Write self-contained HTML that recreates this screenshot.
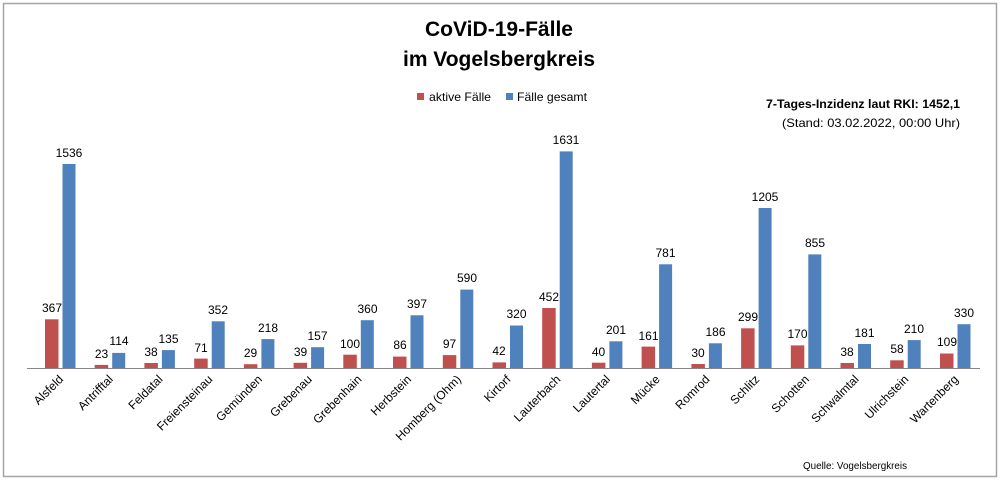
<!DOCTYPE html>
<html><head><meta charset="utf-8"><style>
html,body{margin:0;padding:0;background:#fff}
svg{display:block}
text{font-family:"Liberation Sans",sans-serif;fill:#000}
</style></head><body>
<svg width="1000" height="480" viewBox="0 0 1000 480" xmlns="http://www.w3.org/2000/svg">
<rect x="3.5" y="3.5" width="993" height="473" fill="#fff" stroke="#a6a6a6" stroke-width="1.5"/>
<text x="499" y="36" font-size="21" font-weight="bold" text-anchor="middle" textLength="148" lengthAdjust="spacingAndGlyphs">CoViD-19-Fälle</text>
<text x="499" y="66" font-size="21" font-weight="bold" text-anchor="middle" textLength="192" lengthAdjust="spacingAndGlyphs">im Vogelsbergkreis</text>
<rect x="417" y="93" width="7" height="7" fill="#c0504d"/>
<text x="429" y="101" font-size="12" textLength="62" lengthAdjust="spacingAndGlyphs">aktive Fälle</text>
<rect x="506" y="93" width="7" height="7" fill="#4f81bd"/>
<text x="517" y="101" font-size="12" textLength="70" lengthAdjust="spacingAndGlyphs">Fälle gesamt</text>
<text x="960" y="108" font-size="12" font-weight="bold" text-anchor="end" textLength="194" lengthAdjust="spacingAndGlyphs">7-Tages-Inzidenz laut RKI: 1452,1</text>
<text x="960" y="127" font-size="12" text-anchor="end" textLength="178" lengthAdjust="spacingAndGlyphs">(Stand: 03.02.2022, 00:00 Uhr)</text>
<text x="803" y="469" font-size="10" textLength="104" lengthAdjust="spacingAndGlyphs">Quelle: Vogelsbergkreis</text>
<line x1="27" y1="368.5" x2="980" y2="368.5" stroke="#868686" stroke-width="1"/>
<g fill="#c0504d">
<rect x="45" y="319.3" width="13.5" height="48.7"/>
<rect x="94.7" y="364.9" width="13.5" height="3.1"/>
<rect x="144.4" y="363" width="13.5" height="5"/>
<rect x="194.2" y="358.6" width="13.5" height="9.4"/>
<rect x="243.9" y="364.2" width="13.5" height="3.8"/>
<rect x="293.6" y="362.8" width="13.5" height="5.2"/>
<rect x="343.3" y="354.7" width="13.5" height="13.3"/>
<rect x="393" y="356.6" width="13.5" height="11.4"/>
<rect x="442.8" y="355.1" width="13.5" height="12.9"/>
<rect x="492.5" y="362.4" width="13.5" height="5.6"/>
<rect x="542.2" y="308" width="13.5" height="60"/>
<rect x="591.9" y="362.7" width="13.5" height="5.3"/>
<rect x="641.6" y="346.6" width="13.5" height="21.4"/>
<rect x="691.4" y="364" width="13.5" height="4"/>
<rect x="741.1" y="328.3" width="13.5" height="39.7"/>
<rect x="790.8" y="345.4" width="13.5" height="22.6"/>
<rect x="840.5" y="363" width="13.5" height="5"/>
<rect x="890.2" y="360.3" width="13.5" height="7.7"/>
<rect x="940" y="353.5" width="13.5" height="14.5"/>
</g>
<g fill="#4f81bd">
<rect x="62.5" y="164" width="13" height="204"/>
<rect x="112.2" y="352.9" width="13" height="15.1"/>
<rect x="161.9" y="350.1" width="13" height="17.9"/>
<rect x="211.7" y="321.3" width="13" height="46.7"/>
<rect x="261.4" y="339.1" width="13" height="28.9"/>
<rect x="311.1" y="347.2" width="13" height="20.8"/>
<rect x="360.8" y="320.2" width="13" height="47.8"/>
<rect x="410.5" y="315.3" width="13" height="52.7"/>
<rect x="460.3" y="289.6" width="13" height="78.4"/>
<rect x="510" y="325.5" width="13" height="42.5"/>
<rect x="559.7" y="151.4" width="13" height="216.6"/>
<rect x="609.4" y="341.3" width="13" height="26.7"/>
<rect x="659.1" y="264.3" width="13" height="103.7"/>
<rect x="708.9" y="343.3" width="13" height="24.7"/>
<rect x="758.6" y="208" width="13" height="160"/>
<rect x="808.3" y="254.4" width="13" height="113.6"/>
<rect x="858" y="344" width="13" height="24"/>
<rect x="907.7" y="340.1" width="13" height="27.9"/>
<rect x="957.5" y="324.2" width="13" height="43.8"/>
</g>
<g font-size="12" text-anchor="middle">
<text x="52" y="312">367</text><text x="69" y="157">1536</text>
<text x="101.5" y="358">23</text><text x="119" y="345">114</text>
<text x="151" y="356">38</text><text x="168.5" y="343">135</text>
<text x="201" y="352">71</text><text x="218" y="314">352</text>
<text x="250.5" y="357">29</text><text x="268" y="332">218</text>
<text x="300.5" y="356">39</text><text x="317.5" y="340">157</text>
<text x="350" y="348">100</text><text x="367.5" y="313">360</text>
<text x="400" y="349">86</text><text x="417" y="308">397</text>
<text x="449.5" y="348">97</text><text x="467" y="282">590</text>
<text x="499" y="355">42</text><text x="516.5" y="318">320</text>
<text x="549" y="301">452</text><text x="566" y="144">1631</text>
<text x="598.5" y="356">40</text><text x="616" y="334">201</text>
<text x="648.5" y="340">161</text><text x="665.5" y="257">781</text>
<text x="698" y="357">30</text><text x="715.5" y="336">186</text>
<text x="748" y="321">299</text><text x="765" y="201">1205</text>
<text x="797.5" y="338">170</text><text x="815" y="247">855</text>
<text x="847" y="356">38</text><text x="864.5" y="337">181</text>
<text x="897" y="353">58</text><text x="914" y="333">210</text>
<text x="947" y="346">109</text><text x="964" y="317">330</text>
</g>
<g font-size="12" text-anchor="end">
<text transform="translate(64,380) rotate(-45)">Alsfeld</text>
<text transform="translate(113.7,380) rotate(-45)">Antrifftal</text>
<text transform="translate(163.4,380) rotate(-45)">Feldatal</text>
<text transform="translate(213.2,380) rotate(-45)">Freiensteinau</text>
<text transform="translate(262.9,380) rotate(-45)">Gemünden</text>
<text transform="translate(312.6,380) rotate(-45)">Grebenau</text>
<text transform="translate(362.3,380) rotate(-45)">Grebenhain</text>
<text transform="translate(412,380) rotate(-45)">Herbstein</text>
<text transform="translate(461.8,380) rotate(-45)">Homberg (Ohm)</text>
<text transform="translate(511.5,380) rotate(-45)">Kirtorf</text>
<text transform="translate(561.2,380) rotate(-45)">Lauterbach</text>
<text transform="translate(610.9,380) rotate(-45)">Lautertal</text>
<text transform="translate(660.6,380) rotate(-45)">Mücke</text>
<text transform="translate(710.4,380) rotate(-45)">Romrod</text>
<text transform="translate(760.1,380) rotate(-45)">Schlitz</text>
<text transform="translate(809.8,380) rotate(-45)">Schotten</text>
<text transform="translate(859.5,380) rotate(-45)">Schwalmtal</text>
<text transform="translate(909.2,380) rotate(-45)">Ulrichstein</text>
<text transform="translate(959,380) rotate(-45)">Wartenberg</text>
</g>
</svg>
</body></html>
